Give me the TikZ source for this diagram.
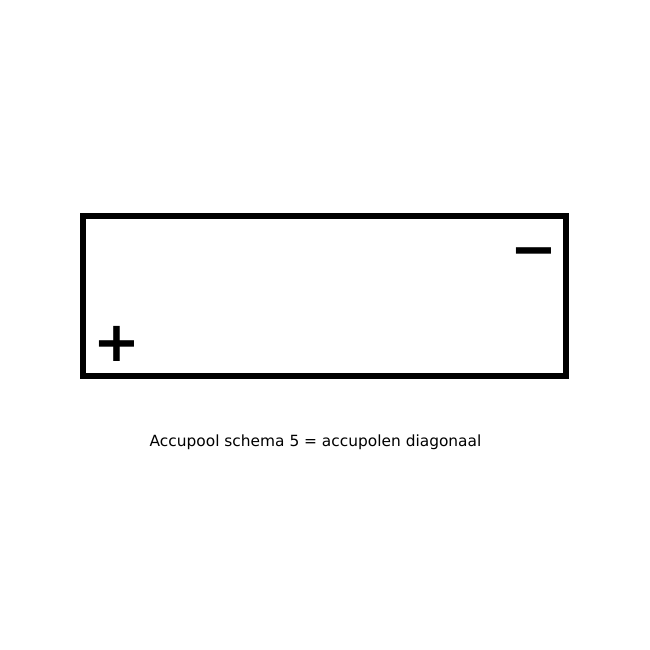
\documentclass[tikz,border=0pt]{standalone}
\usepackage{fontspec}
\setmainfont{DejaVu Sans}
\newfontfamily\signfont{DejaVu Sans Bold}
\begin{document}
\begin{tikzpicture}[x=1pt,y=-1pt,
  battery/.style={draw=black,line width=6pt},
  sign/.style={inner sep=0pt,font=\signfont\fontsize{56}{56}\selectfont},
  caption/.style={inner sep=0pt,font=\fontsize{15.4}{18}\selectfont}]
\useasboundingbox (0,0) rectangle (650,650);
\fill[white] (0,0) rectangle (650,650);
\draw[battery] (83,216) rectangle (566,376);
\node[sign] (plus) at (116.5,344) {+};
\node[sign] (minus) at (534,258) {−};
\node[caption,anchor=base] (cap) at (315.5,446.5) {Accupool schema 5 = accupolen diagonaal};
\end{tikzpicture}
\end{document}
